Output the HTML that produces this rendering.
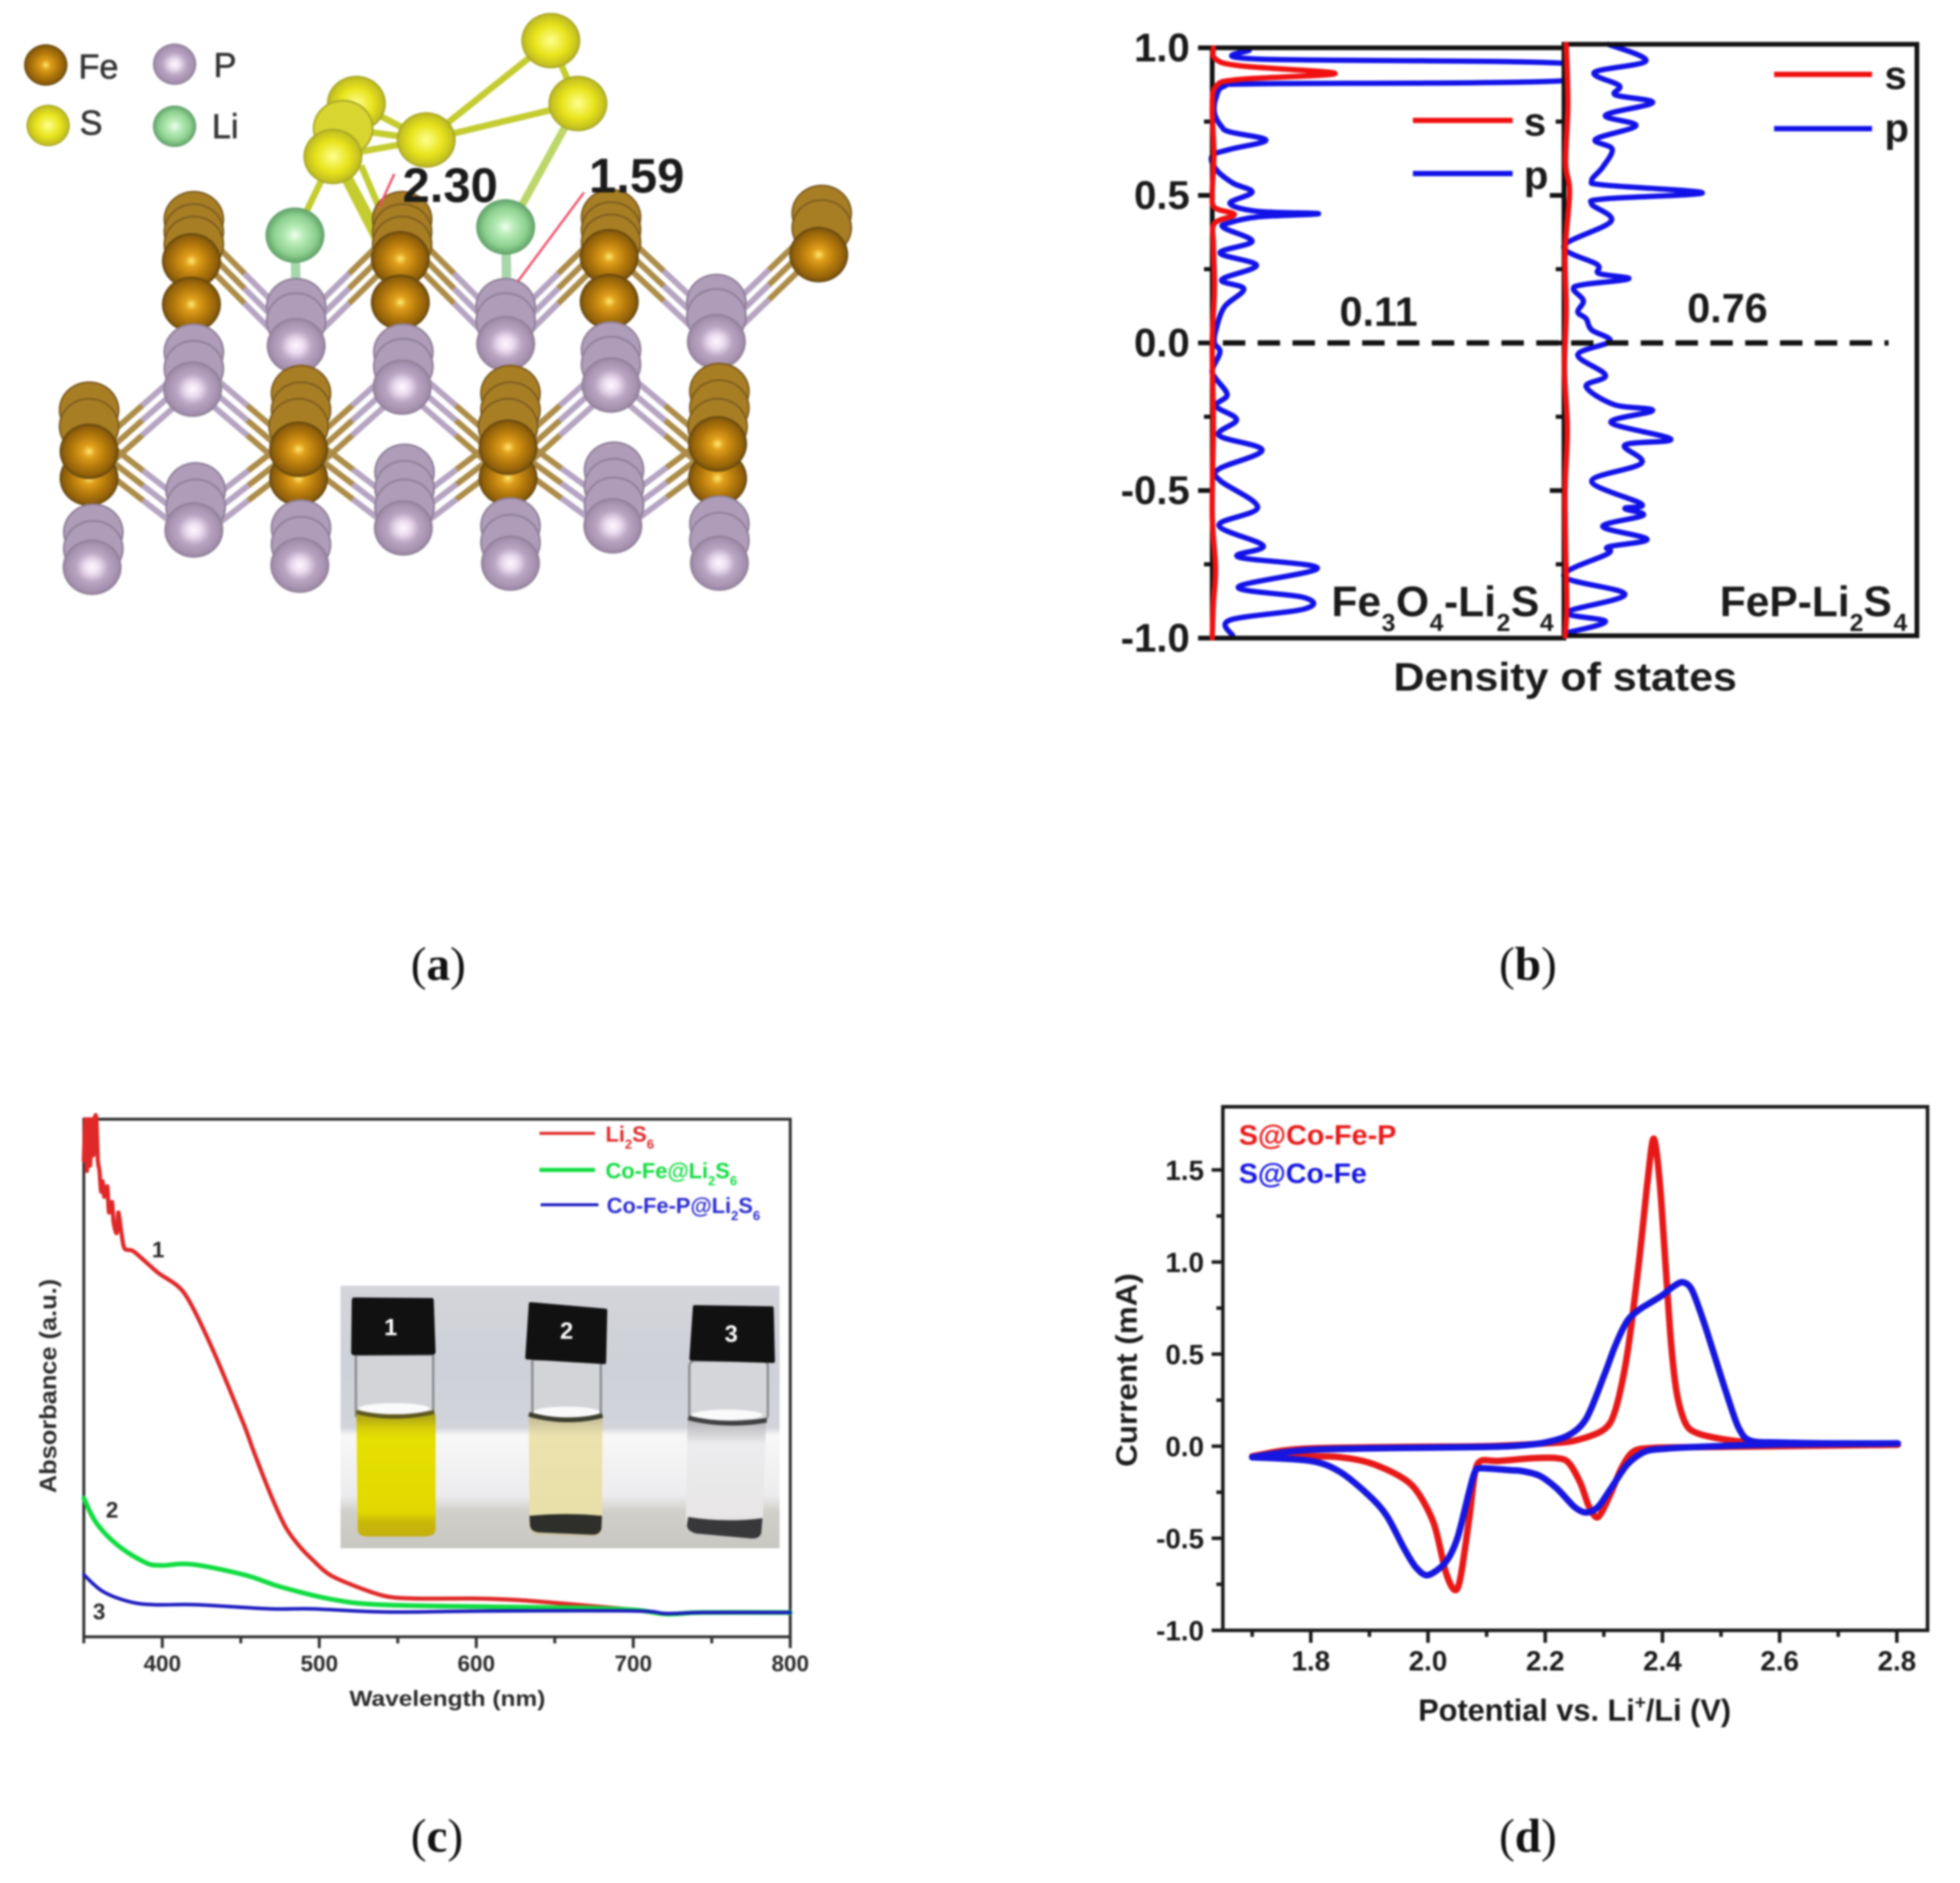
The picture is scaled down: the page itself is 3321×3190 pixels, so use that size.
<!DOCTYPE html>
<html lang="en">
<head>
<meta charset="utf-8">
<title>Fe-P Li2S4 adsorption, DOS, absorbance and CV figure</title>
<style>
html,body{margin:0;padding:0;background:#fff;}
#fig{display:block;width:3321px;height:3190px;filter:blur(1.6px);}
text{font-family:"Liberation Sans",sans-serif;}
.b{font-weight:bold;}
.cap{font-family:"Liberation Serif",serif;font-size:80px;fill:#111;}
</style>
</head>
<body>
<svg id="fig" xmlns="http://www.w3.org/2000/svg" width="3321" height="3190" viewBox="0 0 3321 3190">
<defs>
<radialGradient id="gFe"><stop offset="0" stop-color="#ffe870"/><stop offset=".22" stop-color="#e0a01c"/><stop offset=".55" stop-color="#b87c0c"/><stop offset=".88" stop-color="#8e5e0a"/><stop offset="1" stop-color="#5e4410"/></radialGradient>
<radialGradient id="gP"><stop offset="0" stop-color="#fff8ff"/><stop offset=".25" stop-color="#ecdcf0"/><stop offset=".55" stop-color="#b9a4c2"/><stop offset=".88" stop-color="#a490ae"/><stop offset="1" stop-color="#8d7c94"/></radialGradient>
<radialGradient id="gS"><stop offset="0" stop-color="#ffff90"/><stop offset=".55" stop-color="#e8e41c"/><stop offset=".9" stop-color="#c4c020"/><stop offset="1" stop-color="#a0a028"/></radialGradient>
<radialGradient id="gLi"><stop offset="0" stop-color="#f0fff0"/><stop offset=".3" stop-color="#b8ecb8"/><stop offset=".72" stop-color="#8ccf8e"/><stop offset="1" stop-color="#5f9f68"/></radialGradient>
<linearGradient id="gBackdrop" x1="0" y1="0" x2="0" y2="1"><stop offset="0" stop-color="#d4d5da"/><stop offset=".3" stop-color="#ced1d9"/><stop offset=".54" stop-color="#d2d4da"/><stop offset=".57" stop-color="#f8f8f8"/><stop offset=".8" stop-color="#ececee"/><stop offset=".86" stop-color="#d0cfca"/><stop offset="1" stop-color="#c8c7c2"/></linearGradient>
<linearGradient id="gYellow" x1="0" y1="0" x2="0" y2="1"><stop offset="0" stop-color="#a8a018"/><stop offset=".12" stop-color="#d8d008"/><stop offset=".2" stop-color="#e6e000"/><stop offset=".8" stop-color="#e2d800"/><stop offset=".88" stop-color="#c8b808"/><stop offset="1" stop-color="#c4b010"/></linearGradient>
<linearGradient id="gPale" x1="0" y1="0" x2="0" y2="1"><stop offset="0" stop-color="#c4bd98"/><stop offset=".15" stop-color="#ece2ae"/><stop offset=".8" stop-color="#e9dfa8"/><stop offset="1" stop-color="#c8c0a0"/></linearGradient>
<linearGradient id="gClear" x1="0" y1="0" x2="0" y2="1"><stop offset="0" stop-color="#b4b4b8"/><stop offset=".2" stop-color="#ececee"/><stop offset=".8" stop-color="#e8e6e6"/><stop offset="1" stop-color="#c0c0c0"/></linearGradient>
<clipPath id="clipB1"><rect x="2040" y="70" width="610" height="1020"/></clipPath>
</defs>

<!-- Panel A -->
<g id="panelA">
  <g id="atoms" transform="scale(1.02,.7015)"></g>
  <text x="133" y="133" font-size="58" fill="#333" stroke="#333" stroke-width="1">Fe</text>
  <text x="362" y="130" font-size="58" fill="#333" stroke="#333" stroke-width="1">P</text>
  <text x="135" y="228" font-size="58" fill="#333" stroke="#333" stroke-width="1">S</text>
  <text x="359" y="234" font-size="58" fill="#333" stroke="#333" stroke-width="1">Li</text>
  <text class="b" x="682" y="342" font-size="83" fill="#1a1a1a">2.30</text>
  <text class="b" x="998" y="326" font-size="83" fill="#1a1a1a">1.59</text>
</g>
<text class="cap" x="696" y="1660">(<tspan font-weight="bold">a</tspan>)</text>

<!-- Panel B -->
<g id="panelB">
  <g id="bMarks"></g>
  <g id="bAxes"></g>
  <text class="b" x="2336" y="552" font-size="70" text-anchor="middle" fill="#1a1a1a">0.11</text>
  <text class="b" x="2927" y="546" font-size="70" text-anchor="middle" fill="#1a1a1a">0.76</text>
  <text class="b" x="2256" y="1044" font-size="72" fill="#1a1a1a">Fe<tspan dx="1" dy="25" font-size="42">3</tspan><tspan dx="1" dy="-25">O</tspan><tspan dx="1" dy="25" font-size="42">4</tspan><tspan dx="1" dy="-25">-Li</tspan><tspan dx="1" dy="25" font-size="42">2</tspan><tspan dx="1" dy="-25">S</tspan><tspan dx="1" dy="25" font-size="42">4</tspan></text>
  <text class="b" x="2914" y="1044" font-size="72" fill="#1a1a1a">FeP-Li<tspan dy="25" font-size="42">2</tspan><tspan dy="-25">S</tspan><tspan dx="3" dy="25" font-size="42">4</tspan></text>
  <text class="b" x="2652" y="1170" font-size="68" text-anchor="middle" textLength="582" lengthAdjust="spacingAndGlyphs" fill="#1a1a1a">Density of states</text>
  <line x1="2394" y1="204" x2="2563" y2="204" stroke="#f01010" stroke-width="9"/>
  <text class="b" x="2582" y="230" font-size="68" fill="#1a1a1a">s</text>
  <line x1="2394" y1="294" x2="2563" y2="294" stroke="#1212e8" stroke-width="9"/>
  <text class="b" x="2582" y="320" font-size="68" fill="#1a1a1a">p</text>
  <line x1="3006" y1="126" x2="3172" y2="126" stroke="#f01010" stroke-width="9"/>
  <text class="b" x="3193" y="151" font-size="68" fill="#1a1a1a">s</text>
  <line x1="3006" y1="218" x2="3172" y2="218" stroke="#1212e8" stroke-width="9"/>
  <text class="b" x="3193" y="240" font-size="68" fill="#1a1a1a">p</text>
</g>
<text class="cap" x="2540" y="1660">(<tspan font-weight="bold">b</tspan>)</text>

<!-- Panel C -->
<g id="panelC">
  <rect x="142" y="1896" width="1197" height="877" fill="none" stroke="#333" stroke-width="5"/>
  <g id="cMarks"></g>
  <g id="cAxes"></g>
  <g id="photo">
    <rect x="577" y="2178" width="744" height="445" fill="url(#gBackdrop)"/>
    <g>
      <rect x="603" y="2295" width="131" height="104" fill="#d2d4d8" stroke="#8a8c90" stroke-width="4"/>
      <ellipse cx="668" cy="2386" rx="60" ry="9" fill="#fafafa"/>
      <path d="M604 2396 L738 2396 L738 2590 Q738 2603 720 2603 L622 2603 Q606 2603 606 2590 Z" fill="url(#gYellow)"/>
      <path d="M604 2392 Q668 2408 736 2392" fill="none" stroke="#5e5820" stroke-width="7"/>
      <path d="M600 2198 L732 2199 Q735 2199 735 2204 L738 2290 Q738 2295 732 2295 L600 2296 Q595 2296 595 2290 L596 2204 Q596 2198 600 2198 Z" fill="#111"/>
    </g>
    <g>
      <rect x="902" y="2303" width="116" height="98" fill="#d2d4d8" stroke="#8a8c90" stroke-width="4"/>
      <ellipse cx="960" cy="2392" rx="56" ry="9" fill="#fafafa"/>
      <path d="M896 2402 L1021 2402 L1020 2590 Q1018 2603 1004 2603 L912 2600 Q897 2598 897 2586 Z" fill="url(#gPale)"/>
      <path d="M897 2568 Q960 2562 1020 2568 L1019 2590 Q1016 2600 1004 2600 L912 2596 Q899 2594 898 2584 Z" fill="#2e2e2a"/>
      <path d="M896 2396 Q960 2414 1021 2398" fill="none" stroke="#3e3e30" stroke-width="8"/>
      <path d="M899 2209 L1026 2220 L1024 2308 L893 2300 Z" fill="#111" stroke="#111" stroke-width="6" stroke-linejoin="round"/>
    </g>
    <g>
      <rect x="1168" y="2305" width="133" height="102" rx="10" fill="#d4d6d9" stroke="#8a8c90" stroke-width="4"/>
      <ellipse cx="1232" cy="2397" rx="60" ry="9" fill="#fafafa"/>
      <path d="M1165 2406 L1298 2406 L1292 2595 Q1290 2610 1270 2608 L1180 2600 Q1162 2596 1162 2582 Z" fill="url(#gClear)"/>
      <path d="M1166 2570 Q1230 2580 1292 2572 L1290 2596 Q1288 2608 1270 2606 L1180 2598 Q1164 2594 1164 2584 Z" fill="#38383a"/>
      <path d="M1166 2402 Q1230 2418 1299 2406" fill="none" stroke="#404042" stroke-width="8"/>
      <path d="M1177 2214 L1308 2216 L1310 2306 L1171 2302 Z" fill="#111" stroke="#111" stroke-width="6" stroke-linejoin="round"/>
    </g>
  </g>
  <text class="b" x="662" y="2262" font-size="40" text-anchor="middle" fill="#fff">1</text>
  <text class="b" x="960" y="2268" font-size="40" text-anchor="middle" fill="#fff">2</text>
  <text class="b" x="1239" y="2273" font-size="40" text-anchor="middle" fill="#fff">3</text>
  <text class="b" x="758" y="2890" font-size="37" text-anchor="middle" textLength="332" lengthAdjust="spacingAndGlyphs" fill="#2a2a2a">Wavelength (nm)</text>
  <text class="b" transform="translate(95,2348) rotate(-90)" font-size="40" text-anchor="middle" textLength="363" lengthAdjust="spacingAndGlyphs" fill="#2a2a2a">Absorbance (a.u.)</text>
  <text class="b" x="268" y="2130" font-size="38" text-anchor="middle" fill="#2a2a2a">1</text>
  <text class="b" x="190" y="2571" font-size="38" text-anchor="middle" fill="#2a2a2a">2</text>
  <text class="b" x="168" y="2743" font-size="38" text-anchor="middle" fill="#2a2a2a">3</text>
  <line x1="914" y1="1920" x2="1008" y2="1920" stroke="#e02828" stroke-width="5"/>
  <text class="b" x="1026" y="1934" font-size="37" fill="#e02828">Li<tspan dy="12" font-size="22">2</tspan><tspan dy="-12">S</tspan><tspan dy="12" font-size="22">6</tspan></text>
  <line x1="914" y1="1982" x2="1008" y2="1982" stroke="#10dc40" stroke-width="7"/>
  <text class="b" x="1026" y="1996" font-size="37" fill="#10dc40">Co-Fe@Li<tspan dy="12" font-size="22">2</tspan><tspan dy="-12">S</tspan><tspan dy="12" font-size="22">6</tspan></text>
  <line x1="916" y1="2041" x2="1014" y2="2041" stroke="#1c1cc0" stroke-width="5"/>
  <text class="b" x="1028" y="2055" font-size="37" fill="#2a2ad0">Co-Fe-P@Li<tspan dy="12" font-size="22">2</tspan><tspan dy="-12">S</tspan><tspan dy="12" font-size="22">6</tspan></text>
</g>
<text class="cap" x="696" y="3137">(<tspan font-weight="bold">c</tspan>)</text>

<!-- Panel D -->
<g id="panelD">
  <rect x="2072" y="1875" width="1194" height="887" fill="none" stroke="#1a1a1a" stroke-width="6"/>
  <g id="dMarks"></g>
  <g id="dAxes"></g>
  <text class="b" x="2099" y="1939" font-size="47" textLength="267" lengthAdjust="spacingAndGlyphs" fill="#e81818">S@Co-Fe-P</text>
  <text class="b" x="2099" y="2004" font-size="47" textLength="217" lengthAdjust="spacingAndGlyphs" fill="#1616e0">S@Co-Fe</text>
  <text class="b" x="2403" y="2915" font-size="52" fill="#1a1a1a">Potential vs. Li<tspan dy="-20" font-size="32">+</tspan><tspan dy="20">/Li (V)</tspan></text>
  <text class="b" transform="translate(1926,2321) rotate(-90)" font-size="50" text-anchor="middle" textLength="328" lengthAdjust="spacingAndGlyphs" fill="#1a1a1a">Current (mA)</text>
</g>
<text class="cap" x="2540" y="3137">(<tspan font-weight="bold">d</tspan>)</text>
</svg>

<script>
/* ---------- Panel B data (energy in eV, DOS in arbitrary units) ---------- */
var bTickValues = [-1, -0.5, 0, 0.5, 1];
var bTickLabels = ['-1.0', '-0.5', '0.0', '0.5', '1.0'];
var bMinorTicks = [-0.75, -0.25, 0.25, 0.75];
var feoPEnergy = [.992,.962,.947,.889,.878,.870,.832,.779,.733,.715,.687,.656,.634,.588,.542,.511,.473,.446,.438,.427,.405,.389,.344,.305,.263,.214,.183,.122,.046,0,-.031,-.092,-.122,-.176,-.214,-.26,-.313,-.363,-.427,-.466,-.557,-.618,-.687,-.725,-.763,-.827,-.863,-.901,-.939,-.992];
var feoPDos = [67,82,640,640,82,22,7,4,17,32,97,32,0,7,37,72,32,82,192,82,27,22,72,14,80,17,57,22,7,4,14,0,7,27,7,44,12,90,12,14,82,12,92,47,190,47,167,167,32,37];
var feoSEnergy = [1,.962,.939,.913,.893,.87,.794,.641,.504,.458,.435,.405,.336,.183,0,-.275,-.58,-.763,-.885,-1];
var feoSDos = [2,6,50,222,50,7,0,3,0,5,40,4,2,4,0,2,0,6,2,0];
var fepPEnergy = [1,.944,.905,.86,.829,.803,.76,.725,.679,.646,.585,.539,.524,.498,.478,.46,.402,.318,.256,.226,.208,.188,.173,.134,.096,.073,.035,-.003,-.049,-.118,-.156,-.217,-.237,-.278,-.334,-.354,-.415,-.476,-.553,-.568,-.591,-.629,-.672,-.698,-.72,-.797,-.858,-.919,-.95,-.988];
var fepPDos = [80,148,55,100,93,160,75,130,57,87,70,50,75,250,75,50,85,0,60,63,117,35,17,35,25,40,50,83,25,75,40,90,160,85,193,110,140,50,140,110,143,70,150,80,80,0,110,5,75,5];
var fepSEnergy = [1,.8,.6,.5,.3,.1,-.1,-.3,-.5,-.7,-.9,-1];
var fepSDos = [4,7,3,10,2,4,1,6,2,3,5,2];

/* ---------- Panel C data (wavelength nm, absorbance a.u.) ---------- */
var cTickValues = [400, 500, 600, 700, 800];
var cTickLabels = ['400', '500', '600', '700', '800'];
var cMinorTicks = [350, 450, 550, 650, 750];
var li2s6Wave = [350,351,352,353,354,355,356,357,358,359,360,361,362,363,365,366,368,369,371,372,374,376,382,397,414,432,452,458,469,478,486,496,509,540,563,600,627,664,701,721,744,800];
var li2s6Abs = [92,100,90,100,91,100,93,100,100,92,90,86,88,85,87,82,84,80,78,82,78,75,74.4,70.4,66.4,55.6,41,36,27.5,21.5,18,14.8,11.6,8,7.4,7.4,7.1,6.2,5.2,4.4,4.7,4.7];
var coFeWave = [350,358,372,389,399,419,452,476,509,540,610,664,701,721,744,800];
var coFeAbs = [26.8,22,17.6,14.4,13.8,14,12,9.6,7.2,6.2,5.8,5.6,5.2,4.4,4.7,4.7];
var coFePWave = [350,362,379,395,422,469,496,543,610,701,721,744,800];
var coFePAbs = [12,8.8,6.8,6.2,6.2,5.4,5.4,4.8,5,5,4.5,4.7,4.7];

/* ---------- Panel D data (potential V, current mA) ---------- */
var dXTickValues = [1.8, 2.0, 2.2, 2.4, 2.6, 2.8];
var dXTickLabels = ['1.8', '2.0', '2.2', '2.4', '2.6', '2.8'];
var dXMinorTicks = [1.7, 1.9, 2.1, 2.3, 2.5, 2.7];
var dYTickValues = [-1, -0.5, 0, 0.5, 1, 1.5];
var dYTickLabels = ['-1.0', '-0.5', '0.0', '0.5', '1.0', '1.5'];
var dYMinorTicks = [-0.75, -0.25, 0.25, 0.75, 1.25];
var cvRedV = [1.7,1.75,1.8,1.9,2.0,2.1,2.2,2.25,2.3,2.32,2.34,2.36,2.375,2.385,2.395,2.405,2.415,2.425,2.44,2.46,2.5,2.55,2.6,2.7,2.8,2.6,2.45,2.38,2.35,2.33,2.31,2.29,2.275,2.26,2.24,2.22,2.18,2.12,2.09,2.08,2.07,2.055,2.045,2.03,2.01,1.98,1.95,1.9,1.85,1.8,1.7];
var cvRedI = [-.055,-.025,-.012,-.006,-.003,0,.015,.03,.09,.2,.5,1.0,1.45,1.67,1.45,1.0,.55,.28,.12,.07,.04,.02,.01,.005,.008,0,-.005,-.01,-.03,-.12,-.27,-.385,-.33,-.2,-.09,-.065,-.065,-.08,-.08,-.15,-.4,-.72,-.78,-.68,-.42,-.24,-.16,-.09,-.06,-.055,-.06];
var cvBlueV = [1.7,1.75,1.8,1.9,2.0,2.1,2.15,2.2,2.24,2.27,2.3,2.32,2.34,2.36,2.38,2.4,2.42,2.435,2.45,2.47,2.49,2.51,2.53,2.55,2.6,2.7,2.8,2.6,2.45,2.4,2.37,2.34,2.31,2.29,2.27,2.25,2.22,2.19,2.16,2.14,2.09,2.08,2.07,2.05,2.03,2.0,1.98,1.96,1.93,1.9,1.85,1.8,1.7];
var cvBlueI = [-.06,-.035,-.02,-.012,-.008,-.004,.002,.02,.06,.15,.38,.55,.68,.74,.78,.82,.87,.89,.85,.68,.48,.28,.1,.03,.02,.015,.015,.01,-.005,-.015,-.03,-.1,-.24,-.33,-.36,-.33,-.23,-.16,-.135,-.13,-.12,-.14,-.25,-.5,-.63,-.7,-.66,-.56,-.38,-.27,-.14,-.08,-.06];

/* ---------- Axis functions ---------- */
function yB(e){ return 581 - e * 500; }
function yB2(e){ return 576.5 - e * 501.5; }
function xB1(d){ return 2054 + d * 0.938; }
function xB2(d){ return 2650 + d * 0.938; }
function xC(w){ return 142 + (w - 350) * 1197 / 450; }
function yC(a){ return 2773 - a * 8.77; }
function xD(v){ return 2221 + (v - 1.8) * 993; }
function yD(i){ return 2762 - (i + 1) * 312; }

var NS = 'http://www.w3.org/2000/svg';
function mk(tag, parent, attrs){
  var n = document.createElementNS(NS, tag);
  for (var k in attrs) n.setAttribute(k, attrs[k]);
  parent.appendChild(n);
  return n;
}
function smoothPath(pts, t){
  var d = 'M' + pts[0][0].toFixed(1) + ' ' + pts[0][1].toFixed(1);
  for (var i = 0; i < pts.length - 1; i++){
    var p0 = pts[Math.max(i - 1, 0)], p1 = pts[i], p2 = pts[i + 1], p3 = pts[Math.min(i + 2, pts.length - 1)];
    var c1x = p1[0] + (p2[0] - p0[0]) * t, c1y = p1[1] + (p2[1] - p0[1]) * t;
    var c2x = p2[0] - (p3[0] - p1[0]) * t, c2y = p2[1] - (p3[1] - p1[1]) * t;
    d += 'C' + c1x.toFixed(1) + ' ' + c1y.toFixed(1) + ' ' + c2x.toFixed(1) + ' ' + c2y.toFixed(1) + ' ' + p2[0].toFixed(1) + ' ' + p2[1].toFixed(1);
  }
  return d;
}
function curve(parent, xs, ys, fx, fy, color, width, name, tension){
  var pts = xs.map(function(v, i){ return [fx(v), fy(ys[i])]; });
  var p = mk('path', parent, {d: smoothPath(pts, tension), fill: 'none', stroke: color, 'stroke-width': width, 'stroke-linejoin': 'round', 'stroke-linecap': 'round'});
  
  
  return p;
}
function tick(parent, x1, y1, x2, y2, w, color){
  var l = mk('line', parent, {x1: x1, y1: y1, x2: x2, y2: y2, stroke: color, 'stroke-width': w});
  
  
}
function tickText(parent, s, x, y, size, anchor, color){
  var t = mk('text', parent, {x: x, y: y, 'font-size': size, 'font-weight': 'bold', 'text-anchor': anchor, fill: color});
  t.textContent = s;
  
  
}

/* ---------- Draw panel B ---------- */
(function(){
  var m = document.getElementById('bMarks'), a = document.getElementById('bAxes');
  var clipped = mk('g', m, {'clip-path': 'url(#clipB1)'});
  curve(clipped, feoPDos, feoPEnergy, xB1, yB, '#1212e8', 9, 'fe3o4-p-dos', 0.17);
  curve(m, fepPDos, fepPEnergy, xB2, yB2, '#1212e8', 9, 'fep-p-dos', 0.17);
  var axisPaths = [
    [2054, 81, 2650, 81], [2054, 81, 2054, 1081], [2054, 1081, 2650, 1081],
    [2650, 75, 3248, 75], [3248, 75, 3248, 1077], [2650, 1077, 3248, 1077], [2650, 75, 2650, 1081]
  ];
  axisPaths.forEach(function(s){
    var l = mk('line', a, {x1: s[0], y1: s[1], x2: s[2], y2: s[3], stroke: '#111', 'stroke-width': 8, 'stroke-linecap': 'square'});
    
    
  });
  bTickValues.forEach(function(v, i){
    tick(a, 2030, yB(v), 2054, yB(v), 8, '#111');
    tick(a, 2626, yB(v), 2650, yB(v), 8, '#111');
    tickText(a, bTickLabels[i], 2016, yB(v) + 23, 68, 'end', '#1a1a1a');
  });
  bMinorTicks.forEach(function(v){
    tick(a, 2040, yB(v), 2054, yB(v), 7, '#111');
    tick(a, 2636, yB(v), 2650, yB(v), 7, '#111');
  });
  var dash = mk('line', a, {x1: 2072, y1: yB(0), x2: 3200, y2: yB(0), stroke: '#111', 'stroke-width': 9, 'stroke-dasharray': '38 21'});
  
  
  curve(a, feoSDos, feoSEnergy, xB1, yB, '#f01010', 9, 'fe3o4-s-dos', 0.17);
  curve(a, fepSDos, fepSEnergy, xB2, yB2, '#f01010', 9, 'fep-s-dos', 0.17);
})();

/* ---------- Draw panel C ---------- */
(function(){
  var m = document.getElementById('cMarks'), a = document.getElementById('cAxes');
  cTickValues.forEach(function(v, i){
    tick(a, xC(v), 2773, xC(v), 2792, 5, '#333');
    tickText(a, cTickLabels[i], xC(v), 2831, 38, 'middle', '#2a2a2a');
  });
  cMinorTicks.forEach(function(v){ tick(a, xC(v), 2773, xC(v), 2784, 5, '#333'); });
  curve(m, li2s6Wave, li2s6Abs, xC, yC, '#e02828', 7, 'series-li2s6', 0.14);
  curve(m, coFeWave, coFeAbs, xC, yC, '#10dc40', 8, 'series-co-fe', 0.17);
  curve(m, coFePWave, coFePAbs, xC, yC, '#1c1cc0', 6, 'series-co-fe-p', 0.17);
})();

/* ---------- Draw panel D ---------- */
(function(){
  var m = document.getElementById('dMarks'), a = document.getElementById('dAxes');
  dXTickValues.forEach(function(v, i){
    tick(a, xD(v), 2762, xD(v), 2783, 6, '#1a1a1a');
    tickText(a, dXTickLabels[i], xD(v), 2830, 47, 'middle', '#1a1a1a');
  });
  dXMinorTicks.forEach(function(v){ tick(a, xD(v), 2762, xD(v), 2773, 6, '#1a1a1a'); });
  dYTickValues.forEach(function(v, i){
    tick(a, 2053, yD(v), 2072, yD(v), 6, '#1a1a1a');
    tickText(a, dYTickLabels[i], 2040, yD(v) + 17, 47, 'end', '#1a1a1a');
  });
  dYMinorTicks.forEach(function(v){ tick(a, 2061, yD(v), 2072, yD(v), 6, '#1a1a1a'); });
  curve(m, cvRedV, cvRedI, xD, yD, '#e81818', 11, 'series-s-co-fe-p', 0.15);
  curve(m, cvBlueV, cvBlueI, xD, yD, '#1616e0', 11, 'series-s-co-fe', 0.15);
})();

/* ---------- Draw panel A (atom model) ---------- */
var latticeBonds = [
  [320,571,'Fe',492,822,'P'],[492,822,'P',668,571,'Fe'],[668,571,'Fe',840,822,'P'],[840,822,'P',1015,571,'Fe'],[1015,571,'Fe',1190,810,'P'],[1190,810,'P',1365,565,'Fe'],
  [150,1126,'Fe',322,905,'P'],[322,905,'P',500,1126,'Fe'],[500,1126,'Fe',670,905,'P'],[670,905,'P',845,1126,'Fe'],[845,1126,'Fe',1015,905,'P'],[1015,905,'P',1195,1126,'Fe'],
  [150,1074,'Fe',325,1271,'P'],[325,1271,'P',500,1074,'Fe'],[500,1074,'Fe',672,1265,'P'],[672,1265,'P',845,1074,'Fe'],[845,1074,'Fe',1020,1260,'P'],[1020,1260,'P',1195,1070,'Fe']
];
var verticalBonds = [[320,730,320,850],[668,730,670,850],[1015,730,1015,845],[492,835,500,960],[840,830,845,960],[1190,825,1195,960],[150,1155,155,1285],[500,1155,500,1275],[848,1155,848,1270],[1195,1155,1195,1265]];
var sulfurBonds = [[915,98,960,250],[915,98,708,338],[960,250,708,338],[708,338,592,250],[708,338,553,378],[592,250,553,378],[570,310,708,338],[553,378,490,568],[553,378,628,590],[570,400,640,590],[600,400,650,570]];
var liSulfurBonds = [[945,290,850,540]];
var liBonds = [[490,568,492,720],[840,548,842,720]];
/* x, y, element, 1 when drawn as a back atom */
var atomList = [
  [322,530,'Fe',1],[322,560,'Fe',1],[322,590,'Fe',1],[318,630,'Fe',0],[318,735,'Fe',0],
  [668,530,'Fe',1],[668,560,'Fe',1],[668,590,'Fe',1],[665,625,'Fe',0],[665,730,'Fe',0],
  [1015,525,'Fe',1],[1015,555,'Fe',1],[1015,585,'Fe',1],[1012,620,'Fe',0],[1012,728,'Fe',0],
  [1365,515,'Fe',1],[1365,550,'Fe',1],[1360,615,'Fe',0],
  [492,740,'P',1],[492,775,'P',1],[492,835,'P',0],
  [840,740,'P',1],[840,775,'P',1],[840,830,'P',0],
  [1190,730,'P',1],[1190,765,'P',1],[1190,825,'P',0],
  [322,850,'P',1],[322,890,'P',1],[320,940,'P',0],
  [670,850,'P',1],[670,885,'P',1],[668,935,'P',0],
  [1015,845,'P',1],[1015,880,'P',1],[1015,930,'P',0],
  [148,990,'Fe',1],[148,1030,'Fe',1],[148,1155,'Fe',0],[148,1090,'Fe',0],
  [500,950,'Fe',1],[500,990,'Fe',1],[496,1030,'Fe',1],[496,1155,'Fe',0],[496,1085,'Fe',0],
  [848,950,'Fe',1],[848,990,'Fe',1],[844,1030,'Fe',1],[844,1155,'Fe',0],[844,1080,'Fe',0],
  [1195,945,'Fe',1],[1195,985,'Fe',1],[1192,1030,'Fe',1],[1192,1155,'Fe',0],[1192,1072,'Fe',0],
  [325,1185,'P',1],[325,1225,'P',1],[322,1280,'P',0],
  [672,1140,'P',1],[672,1180,'P',1],[672,1225,'P',1],[670,1275,'P',0],
  [1020,1135,'P',1],[1020,1175,'P',1],[1020,1220,'P',1],[1018,1270,'P',0],
  [155,1285,'P',1],[155,1325,'P',1],[153,1370,'P',0],
  [500,1275,'P',1],[500,1315,'P',1],[498,1365,'P',0],
  [848,1270,'P',1],[848,1310,'P',1],[848,1360,'P',0],
  [1195,1265,'P',1],[1195,1305,'P',1],[1195,1360,'P',0],
  [490,568,'Li',0],[840,548,'Li',0],
  [592,250,'S',0],[570,310,'S',1],[915,98,'S',0],[960,250,'S',0],[708,338,'S',0],[553,378,'S',0]
];
var legendAtoms = [[76,157,'Fe'],[290,155,'P'],[80,303,'S'],[290,305,'Li']];
var redArrows = [[630,500,655,420],[860,680,970,465]];
(function(){
  var g = document.getElementById('atoms');
  var bondColor = {Fe: '#ac8c48', P: '#b5a4c2'};
  var backFill = {Fe: '#a87e24', P: '#ae9cb8', S: '#d8d430', Li: '#8fcf95'};
  var backStroke = {Fe: '#7c5c20', P: '#8f7f98', S: '#a8a828', Li: '#68a870'};
  function seg(x1, y1, x2, y2, color, w, name){
    var l = mk('line', g, {x1: x1, y1: y1, x2: x2, y2: y2, stroke: color, 'stroke-width': w, 'vector-effect': 'non-scaling-stroke'});
    
    
  }
  latticeBonds.forEach(function(b){
    [-36, 0, 36].forEach(function(o){
      var mx = (b[0] + b[3]) / 2, my = (b[1] + b[4]) / 2 + o;
      seg(b[0], b[1] + o, mx, my, bondColor[b[2]], 10, 'lattice-bond');
      seg(mx, my, b[3], b[4] + o, bondColor[b[5]], 10, 'lattice-bond');
    });
  });
  verticalBonds.forEach(function(b){ seg(b[0], b[1], b[2], b[3], '#a08468', 12, 'vertical-bond'); });
  liBonds.forEach(function(b){ seg(b[0], b[1], b[2], b[3], '#a6d6aa', 16, 'li-p-bond'); });
  sulfurBonds.forEach(function(b){ seg(b[0], b[1], b[2], b[3], '#c4cc30', 11, 's-bond'); });
  liSulfurBonds.forEach(function(b){ seg(b[0], b[1], b[2], b[3], '#bcd66a', 13, 's-li-bond'); });
  function atom(x, y, kind, back, rx, ry, name){
    var e = mk('ellipse', g, {cx: x, cy: y, rx: rx, ry: ry, fill: back ? backFill[kind] : 'url(#g' + kind + ')', stroke: back ? backStroke[kind] : 'none', 'stroke-width': 3, 'vector-effect': 'non-scaling-stroke'});
    
    
  }
  atomList.forEach(function(a){ atom(a[0], a[1], a[2], a[3], 49, 67, a[2].toLowerCase() + '-atom'); });
  legendAtoms.forEach(function(a){ atom(a[0], a[1], a[2], 0, 36, 50, 'legend-' + a[2].toLowerCase() + '-atom'); });
  redArrows.forEach(function(r){ seg(r[0], r[1], r[2], r[3], '#f0506a', 4, 'distance-arrow'); });
})();
</script>
</body>
</html>
